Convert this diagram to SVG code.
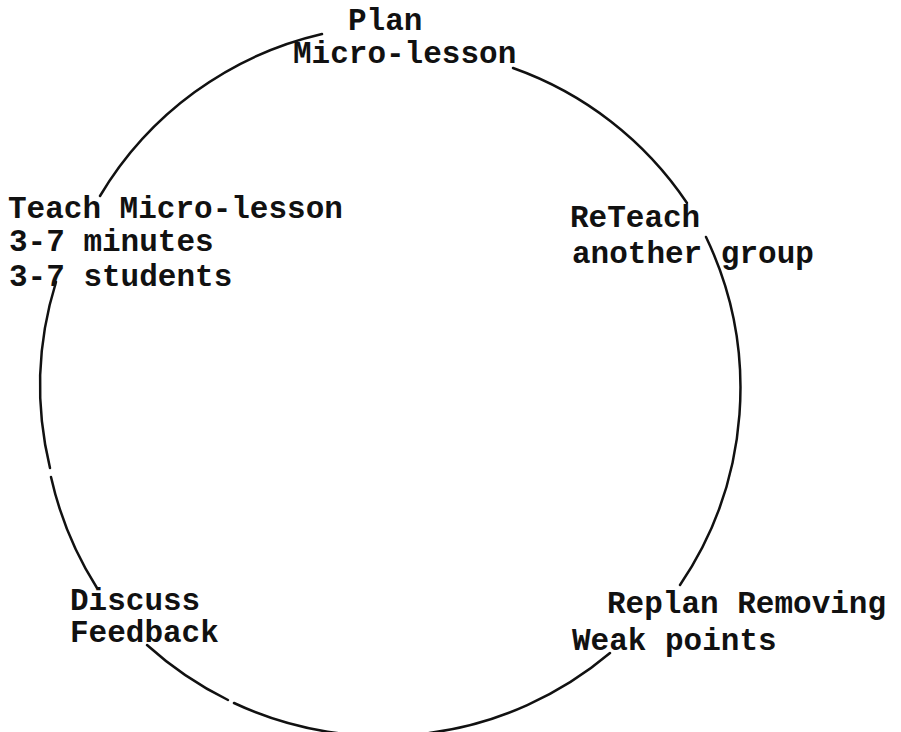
<svg xmlns="http://www.w3.org/2000/svg" width="901" height="732" viewBox="0 0 901 732">
<style>
.lbl{font-family:"Liberation Mono","Courier New",monospace;font-size:31px;font-weight:bold;fill:#111;}
.arc{fill:none;stroke:#111;stroke-width:2.5;stroke-linecap:round;}
</style>
<rect width="901" height="732" fill="#fff"/>
<g id="connectors">
<path class="arc" d="M100 196 A350 350 0 0 1 322 34"/>
<path class="arc" d="M513 68 A350 350 0 0 1 687 203"/>
<path class="arc" d="M706 237 A350 350 0 0 1 680 585"/>
<path class="arc" d="M610 653 A352 352 0 0 1 234 703"/>
<path class="arc" d="M228 700 A352 352 0 0 1 147 645"/>
<path class="arc" d="M97 588 A350 350 0 0 1 51 477"/>
<path class="arc" d="M50 468 A350 350 0 0 1 56 282"/>
</g>
<g id="plan">
<text class="lbl" x="348" y="30">Plan</text>
<text class="lbl" x="293" y="63">Micro-lesson</text>
</g>
<g id="teach">
<text class="lbl" x="8" y="218">Teach Micro-lesson</text>
<text class="lbl" x="9" y="251">3-7 minutes</text>
<text class="lbl" x="9" y="286">3-7 students</text>
</g>
<g id="reteach">
<text class="lbl" x="570" y="227">ReTeach</text>
<text class="lbl" x="572" y="263">another group</text>
</g>
<g id="replan">
<text class="lbl" x="607" y="613">Replan Removing</text>
<text class="lbl" x="572" y="650">Weak points</text>
</g>
<g id="discuss">
<text class="lbl" x="70" y="610">Discuss</text>
<text class="lbl" x="70" y="642">Feedback</text>
</g>
</svg>
